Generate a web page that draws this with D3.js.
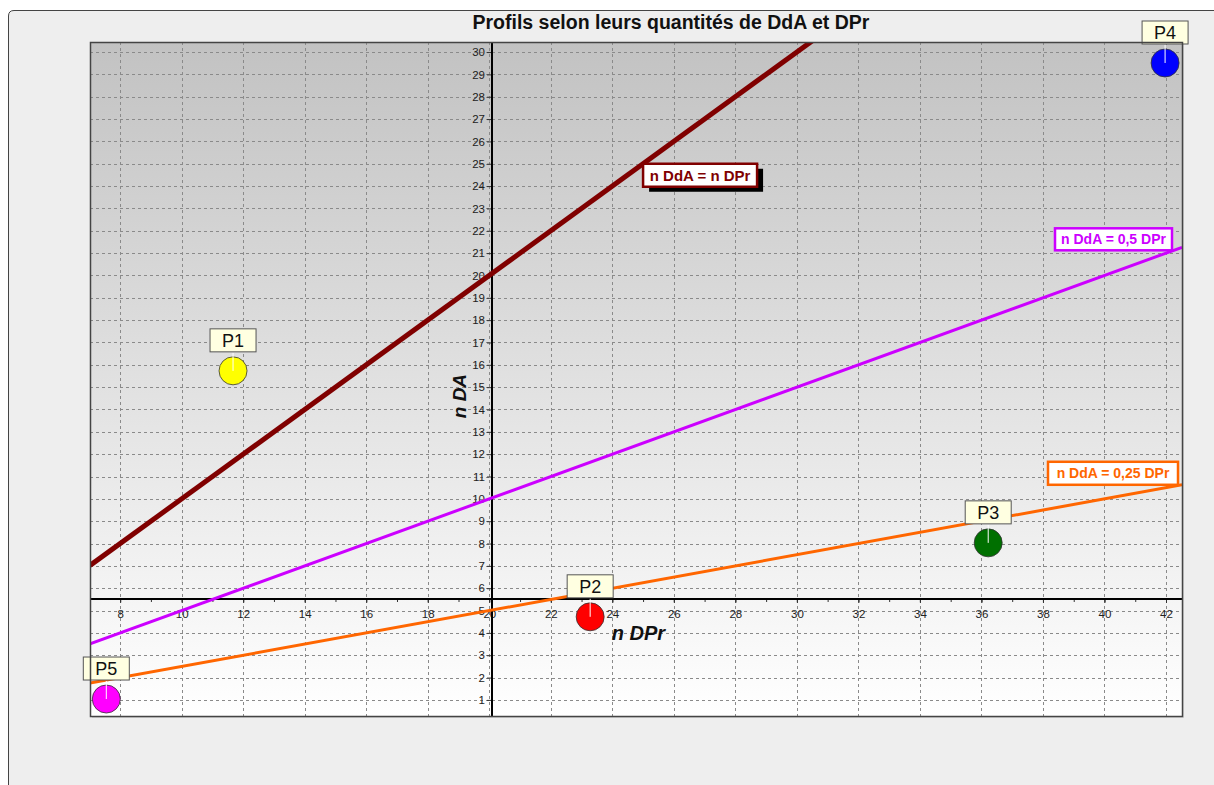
<!DOCTYPE html>
<html>
<head>
<meta charset="utf-8">
<script src="https://cdn.jsdelivr.net/npm/d3@7"></script>
<style>
  body { margin: 0; background: #ffffff; font-family: "Liberation Sans", Arial, sans-serif; }
  svg { display: block; }
</style>
</head>
<body>
<div id="chart"></div>
<script>
// --- data ---
var pointNames = ["P1", "P2", "P3", "P4", "P5"];
var pointDPr = [11.67, 23.28, 36.22, 41.97, 7.55];
var pointDdA = [15.73, 4.72, 8.03, 29.51, 1.04];
var pointColors = ["#ffff00", "#ff0000", "#007000", "#0000ff", "#ff00ff"];

var lineLabels = ["n DdA = n DPr", "n DdA = 0,5 DPr", "n DdA = 0,25 DPr"];
var lineSlopes = [1, 0.5, 0.25];
var lineColors = ["#800000", "#cc00ff", "#ff6600"];
var lineWidths = [5, 3, 3];

var xTicks = d3.range(8, 43, 2);
var yTicks = d3.range(1, 31, 1);
var xMinor = d3.range(8, 43, 1);

var xDomain = [7.02, 42.52];
var yDomain = [0.28, 30.45];
var crossX = 20.1;   // where the vertical axis sits
var crossY = 5.5;    // where the horizontal axis sits

var W = 1214, H = 785;
var plot = { left: 90, top: 42, right: 1182, bottom: 716 };

var svg = d3.select("#chart").append("svg")
    .attr("width", W)
    .attr("height", H);

// outer panel
svg.append("path")
    .attr("d", "M8.5," + (H + 5) + " L8.5,16 Q8.5,10.5 14,10.5 L" + (W + 5) + ",10.5 L" + (W + 5) + "," + (H + 5) + " Z")
    .attr("fill", "#eeeeee")
    .attr("stroke", "#444")
    .attr("stroke-width", 1);

var defs = svg.append("defs");
var grad = defs.append("linearGradient")
    .attr("id", "bg")
    .attr("x1", 0).attr("y1", 0).attr("x2", 0).attr("y2", 1);
grad.append("stop").attr("offset", "0%").attr("stop-color", "#c2c2c2");
grad.append("stop").attr("offset", "100%").attr("stop-color", "#ffffff");

defs.append("clipPath").attr("id", "clip")
    .append("rect")
    .attr("x", plot.left).attr("y", plot.top)
    .attr("width", plot.right - plot.left)
    .attr("height", plot.bottom - plot.top);

var x = d3.scaleLinear().domain(xDomain).range([plot.left, plot.right]);
var y = d3.scaleLinear().domain(yDomain).range([plot.bottom, plot.top]);

// shadow + plot background
svg.append("rect")
    .attr("x", plot.left + 2).attr("y", plot.top + 2)
    .attr("width", plot.right - plot.left)
    .attr("height", plot.bottom - plot.top)
    .attr("fill", "#d6d6d6");
svg.append("rect")
    .attr("x", plot.left).attr("y", plot.top)
    .attr("width", plot.right - plot.left)
    .attr("height", plot.bottom - plot.top)
    .attr("fill", "url(#bg)");

// title
svg.append("text")
    .attr("x", 671)
    .attr("y", 29)
    .attr("text-anchor", "middle")
    .style("font-size", "19.5px")
    .style("font-weight", "bold")
    .attr("fill", "#111")
    .text("Profils selon leurs quantités de DdA et DPr");

// grid
var grid = svg.append("g").attr("clip-path", "url(#clip)");
grid.selectAll(".vgrid")
    .data(xTicks)
    .enter().append("line")
    .attr("class", "vgrid")
    .attr("x1", function(d) { return Math.round(x(d)) + 0.5; })
    .attr("x2", function(d) { return Math.round(x(d)) + 0.5; })
    .attr("y1", plot.top)
    .attr("y2", plot.bottom)
    .attr("stroke", "#8a8a8a")
    .attr("stroke-dasharray", "3,3");
grid.selectAll(".hgrid")
    .data(yTicks)
    .enter().append("line")
    .attr("class", "hgrid")
    .attr("x1", plot.left)
    .attr("x2", plot.right)
    .attr("y1", function(d) { return Math.round(y(d)) + 0.5; })
    .attr("y2", function(d) { return Math.round(y(d)) + 0.5; })
    .attr("stroke", "#8a8a8a")
    .attr("stroke-dasharray", "3,3");

// axes through the middle
var ax0 = Math.round(x(crossX));
var ay0 = Math.round(y(crossY));

var xAxis = svg.append("g")
    .attr("transform", "translate(0," + ay0 + ")")
    .call(d3.axisBottom(x).tickValues(xTicks).tickSize(4).tickSizeOuter(0));
xAxis.select(".domain").remove();
xAxis.selectAll("text")
    .attr("dy", "1.05em")
    .style("font-size", "11.5px")
    .style("font-family", "'Liberation Sans', Arial, sans-serif")
    .attr("fill", "#222");
xAxis.selectAll("line").attr("stroke", "#333");

svg.append("g")
    .attr("transform", "translate(0," + ay0 + ")")
    .call(d3.axisBottom(x).tickValues(xMinor).tickSize(3).tickFormat(""))
    .call(function(g) { g.select(".domain").remove(); })
    .selectAll("line").attr("stroke", "#333");

var yAxis = svg.append("g")
    .attr("transform", "translate(" + ax0 + ",0)")
    .call(d3.axisLeft(y).tickValues(yTicks).tickSize(5).tickPadding(2).tickSizeOuter(0));
yAxis.select(".domain").remove();
yAxis.selectAll("text")
    .style("font-size", "11.5px")
    .style("font-family", "'Liberation Sans', Arial, sans-serif")
    .attr("fill", "#222");
yAxis.selectAll("line").attr("stroke", "#333");

svg.append("line")
    .attr("x1", plot.left).attr("x2", plot.right)
    .attr("y1", ay0).attr("y2", ay0)
    .attr("stroke", "#000").attr("stroke-width", 2);
svg.append("line")
    .attr("x1", ax0).attr("x2", ax0)
    .attr("y1", plot.top).attr("y2", plot.bottom)
    .attr("stroke", "#000").attr("stroke-width", 2);

// axis titles
svg.append("text")
    .attr("transform", "translate(466," + y(14.6) + ") rotate(-90)")
    .attr("text-anchor", "middle")
    .style("font-size", "19px")
    .style("font-weight", "bold")
    .style("font-style", "italic")
    .attr("fill", "#111")
    .text("n DA");
svg.append("text")
    .attr("x", x(24.85))
    .attr("y", y(3.7))
    .attr("text-anchor", "middle")
    .style("font-size", "20px")
    .style("font-weight", "bold")
    .style("font-style", "italic")
    .attr("fill", "#111")
    .text("n DPr");

// ratio lines
var lineData = lineSlopes.map(function(s, i) {
    return { slope: s, label: lineLabels[i], color: lineColors[i], width: lineWidths[i] };
});
svg.append("g").attr("clip-path", "url(#clip)")
    .selectAll("line")
    .data(lineData)
    .enter().append("line")
    .attr("x1", x(xDomain[0]))
    .attr("y1", function(d) { return y(d.slope * xDomain[0]); })
    .attr("x2", x(xDomain[1]))
    .attr("y2", function(d) { return y(d.slope * xDomain[1]); })
    .attr("stroke", function(d) { return d.color; })
    .attr("stroke-width", function(d) { return d.width; });

// line legends
function lineLegend(d, bx, by, w, h, fs, shadow) {
    var g = svg.append("g");
    if (shadow) {
        g.append("rect")
            .attr("x", bx + 6).attr("y", by + 5)
            .attr("width", w).attr("height", h)
            .attr("fill", "#000");
    }
    g.append("rect")
        .attr("x", bx).attr("y", by)
        .attr("width", w).attr("height", h)
        .attr("fill", "#fff")
        .attr("stroke", d.color)
        .attr("stroke-width", 2.5);
    g.append("text")
        .attr("x", bx + w / 2)
        .attr("y", by + h / 2 + fs * 0.36)
        .attr("text-anchor", "middle")
        .style("font-size", fs + "px")
        .style("font-weight", "bold")
        .attr("fill", d.color)
        .text(d.label);
}
// brown one sits where its line passes x = 25
lineLegend(lineData[0], x(25), y(lineData[0].slope * 25), 114, 23, 15, true);
// the two others end at the right edge of their lines
lineLegend(lineData[1], x(xDomain[1]) - 127, y(lineData[1].slope * xDomain[1]) - 19, 117, 22, 14, false);
lineLegend(lineData[2], x(xDomain[1]) - 134, y(lineData[2].slope * xDomain[1]) - 23, 130, 23, 14, false);

// profile points
var pts = pointNames.map(function(n, i) {
    return { name: n, dpr: pointDPr[i], dda: pointDdA[i], color: pointColors[i] };
});
var pg = svg.selectAll(".pt")
    .data(pts)
    .enter().append("g")
    .attr("class", "pt")
    .attr("transform", function(d) { return "translate(" + x(d.dpr) + "," + y(d.dda) + ")"; });

pg.append("circle")
    .attr("r", 14)
    .attr("fill", function(d) { return d.color; })
    .attr("stroke", "#333")
    .attr("stroke-width", 0.8);
pg.append("line")
    .attr("x1", 0).attr("y1", 0)
    .attr("x2", 0).attr("y2", -18)
    .attr("stroke", "#fff")
    .attr("stroke-width", 1);
pg.append("rect")
    .attr("x", -23).attr("y", -42)
    .attr("width", 46).attr("height", 23)
    .attr("fill", "#ffffe1")
    .attr("stroke", "#555")
    .attr("stroke-width", 1);
pg.append("text")
    .attr("x", 0).attr("y", -24)
    .attr("text-anchor", "middle")
    .style("font-size", "18px")
    .attr("fill", "#111")
    .text(function(d) { return d.name; });

// plot frame
svg.append("rect")
    .attr("x", plot.left + 0.5).attr("y", plot.top + 0.5)
    .attr("width", plot.right - plot.left)
    .attr("height", plot.bottom - plot.top)
    .attr("fill", "none")
    .attr("stroke", "#444")
    .attr("stroke-width", 1.5);
</script>
</body>
</html>
